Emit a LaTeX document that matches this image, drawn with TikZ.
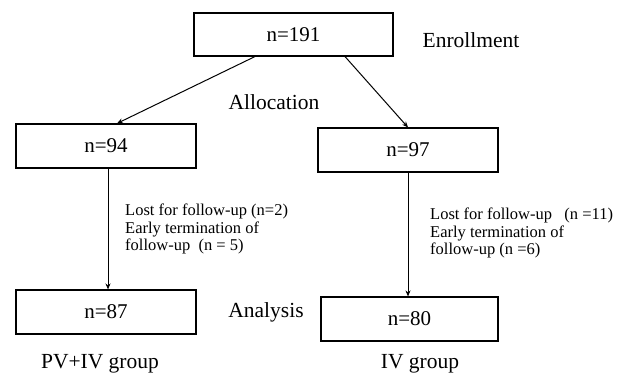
\documentclass[tikz,border=0pt]{standalone}
\usepackage{fontspec}
\setmainfont{Liberation Serif}
\usetikzlibrary{arrows.meta,positioning}

\begin{document}
\begin{tikzpicture}[x=1pt,y=-1pt,
box/.style={draw,line width=1.1pt,minimum height=44pt,minimum width=180pt,inner sep=0pt,font=\fontsize{21}{24}\selectfont},
stage/.style={font=\fontsize{21.5}{24}\selectfont,anchor=base,inner sep=0pt},
note/.style={font=\fontsize{16.5}{17.5}\selectfont,align=left,anchor=west,inner sep=0pt},
arr/.style={-{Stealth[length=6pt,width=5pt]},line width=1pt}]
\useasboundingbox (0,0) rectangle (628,379);
\node[box,minimum width=199pt,minimum height=43pt] (enrol) at (293.5,34.5) {n=191};
\node[box] (pv) at (106,146) {n=94};
\node[box] (iv) at (408,150) {n=97};
\node[box] (pvan) at (106,312) {n=87};
\node[box,minimum width=177pt] (ivan) at (409.5,319) {n=80};
\node[stage] (enr) at (471,48) {Enrollment};
\node[stage] (alloc) at (274,110) {Allocation};
\node[stage] (anal) at (266,317) {Analysis};
\node[stage] (pvgrp) at (100,368) {PV+IV group};
\node[stage] (ivgrp) at (420,368) {IV group};
\node[note] (pvlost) at (125,229) {Lost for follow-up (n=2)\\Early termination of\\follow-up\ \ (n = 5)};
\node[note] (ivlost) at (430,233) {Lost for follow-up\ \ \ (n =11)\\Early termination of\\follow-up (n =6)};
\draw[arr] ([xshift=-38.5pt]enrol.south)--([xshift=11pt]pv.north);
\draw[arr] ([xshift=51.5pt]enrol.south)--(iv.north);
\draw[arr] ([xshift=2pt]pv.south)--([xshift=2pt]pvan.north);
\draw[arr] (iv.south)--([xshift=-1.5pt]ivan.north);
\end{tikzpicture}
\end{document}
